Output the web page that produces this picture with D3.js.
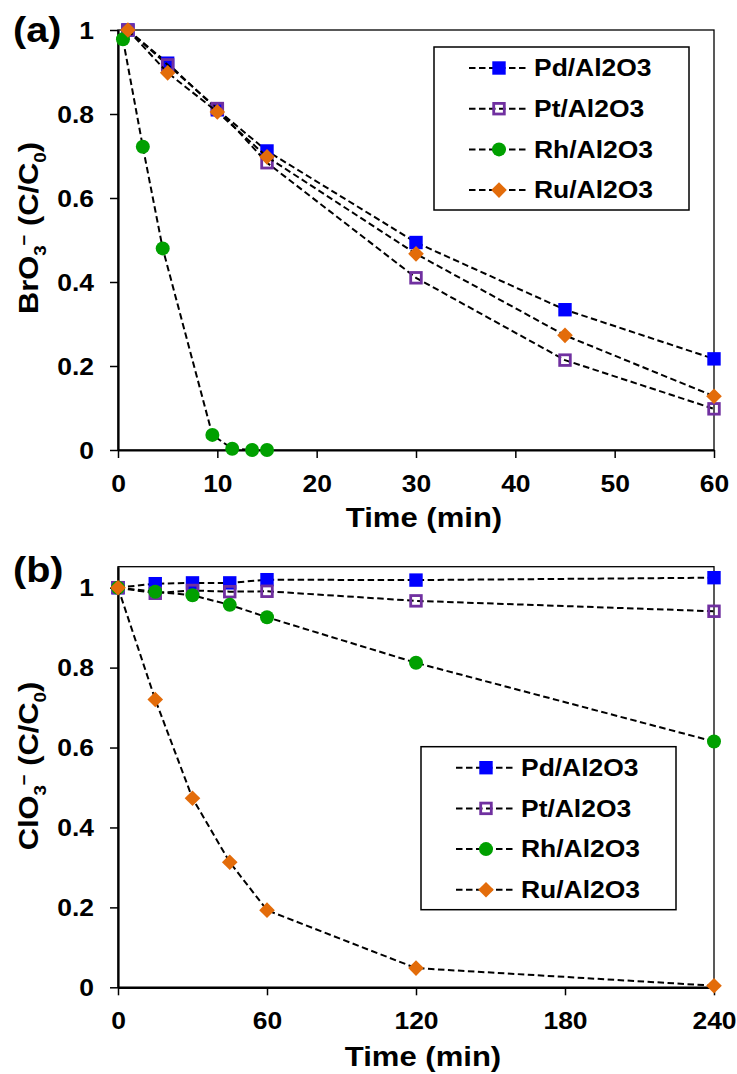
<!DOCTYPE html>
<html><head><meta charset="utf-8">
<script src="https://cdn.jsdelivr.net/npm/d3@7"></script>
<style>
body{margin:0;background:#fff;}
svg text{font-family:"Liberation Sans",Arial,Helvetica,sans-serif;font-weight:bold;fill:#000;}
</style></head><body>
<svg id="chart" width="737" height="1074"></svg>
<script>
// ---------- data ----------
const seriesNames = ["Pd/Al2O3", "Pt/Al2O3", "Rh/Al2O3", "Ru/Al2O3"];
const seriesColors = ["#0000FF", "#7030A0", "#00A000", "#E36C0A"];
const seriesShapes = ["square", "hollowSquare", "circle", "diamond"];

// Panel (a): bromate
const timeA_Pd = [1, 5, 10, 15, 30, 45, 60];
const timeA_Pt = [1, 5, 10, 15, 30, 45, 60];
const timeA_Rh = [0.5, 2.5, 4.5, 9.5, 11.5, 13.5, 15];
const timeA_Ru = [1, 5, 10, 15, 30, 45, 60];
const bromate_Pd = [1.0, 0.921, 0.81, 0.712, 0.494, 0.334, 0.217];
const bromate_Pt = [1.0, 0.917, 0.813, 0.684, 0.41, 0.214, 0.098];
const bromate_Rh = [0.978, 0.722, 0.48, 0.036, 0.003, 0.0, 0.0];
const bromate_Ru = [1.0, 0.898, 0.805, 0.698, 0.467, 0.273, 0.128];
const xTicksA = [0, 10, 20, 30, 40, 50, 60];
const yTicksA = [0, 0.2, 0.4, 0.6, 0.8, 1];

// Panel (b): chlorate
const timeB = [0, 15, 30, 45, 60, 120, 240];
const chlorate_Pd = [1.0, 1.01, 1.012, 1.012, 1.02, 1.019, 1.025];
const chlorate_Pt = [1.0, 0.986, 0.993, 0.99, 0.991, 0.967, 0.941];
const chlorate_Rh = [1.0, 0.99, 0.981, 0.957, 0.926, 0.812, 0.615];
const chlorate_Ru = [1.0, 0.72, 0.473, 0.313, 0.193, 0.048, 0.004];
const xTicksB = [0, 60, 120, 180, 240];
const yTicksB = [0, 0.2, 0.4, 0.6, 0.8, 1];

// ---------- drawing ----------
const svg = d3.select("#chart");
const SX = 1.15; // horizontal glyph stretch of the reference fonts

function fmtY(d) { return d === 0 ? "0" : d === 1 ? "1" : d.toFixed(1); }

function marker(g, shape, color, cx, cy) {
  if (shape === "square") {
    g.append("rect").attr("x", cx - 6.7).attr("y", cy - 6.7).attr("width", 13.4).attr("height", 13.4).attr("fill", color);
  } else if (shape === "hollowSquare") {
    g.append("rect").attr("x", cx - 5.3).attr("y", cy - 5.3).attr("width", 10.6).attr("height", 10.6)
      .attr("fill", "none").attr("stroke", color).attr("stroke-width", 2.8);
  } else if (shape === "circle") {
    g.append("circle").attr("cx", cx).attr("cy", cy).attr("r", 7).attr("fill", color);
  } else {
    const s = 7.8;
    g.append("path").attr("d", `M${cx},${cy - s}L${cx + s},${cy}L${cx},${cy + s}L${cx - s},${cy}Z`).attr("fill", color);
  }
}

function stretchedText(g, x, y, str, size, anchor, sx) {
  return g.append("text").attr("transform", `translate(${x},${y}) scale(${sx},1)`)
    .attr("font-size", size).attr("text-anchor", anchor).text(str);
}

function drawPanel(p) {
  const g = svg.append("g");
  const x = d3.scaleLinear().domain(p.xDomain).range([p.left, p.right]);
  const y = d3.scaleLinear().domain(p.yDomain).range([p.bottom, p.top]);

  // frame
  g.append("rect").attr("x", p.left).attr("y", p.top).attr("width", p.right - p.left).attr("height", p.bottom - p.top)
    .attr("fill", "none").attr("stroke", "#000").attr("stroke-width", 1.3);

  // y axis
  const ya = g.append("g").attr("transform", `translate(${p.left},0)`)
    .call(d3.axisLeft(y).tickValues(p.yTicks).tickSize(8).tickSizeOuter(0).tickFormat(fmtY));
  ya.select(".domain").attr("stroke-width", 2.2);
  ya.selectAll(".tick line").attr("stroke-width", 1.5);
  ya.selectAll(".tick text").attr("x", 0).attr("dy", "0.36em").attr("font-size", 23)
    .attr("transform", `translate(-24,0) scale(${SX},1)`).attr("fill", "#000").attr("font-family", null);

  // x axis
  const xa = g.append("g").attr("transform", `translate(0,${p.bottom})`)
    .call(d3.axisBottom(x).tickValues(p.xTicks).tickSize(8).tickSizeOuter(0).tickFormat(d3.format("d")));
  xa.select(".domain").attr("stroke-width", 2.2);
  xa.selectAll(".tick line").attr("stroke-width", 1.5);
  xa.selectAll(".tick text").attr("y", 0).attr("dy", 0).attr("font-size", 23)
    .attr("transform", `translate(0,42) scale(${SX},1)`).attr("fill", "#000").attr("font-family", null);
  ya.attr("font-family", null); xa.attr("font-family", null);

  // series
  const line = d3.line().x(d => x(d[0])).y(d => y(d[1]));
  p.series.forEach((s, i) => {
    const pts = s.t.map((t, k) => [t, s.v[k]]);
    const sg = g.append("g");
    sg.append("path").attr("d", line(pts)).attr("fill", "none").attr("stroke", "#000")
      .attr("stroke-width", 2).attr("stroke-dasharray", "6.5,3.5");
    pts.forEach(d => marker(sg, seriesShapes[i], seriesColors[i], x(d[0]), y(d[1])));
  });

  // legend
  const L = p.legend;
  const lg = g.append("g");
  lg.append("rect").attr("x", L.x).attr("y", L.y).attr("width", 255).attr("height", 163)
    .attr("fill", "#fff").attr("stroke", "#000").attr("stroke-width", 1.5);
  seriesNames.forEach((name, i) => {
    const cy = L.y + 21 + i * 40.7;
    lg.append("line").attr("x1", L.x + 35).attr("x2", L.x + 93).attr("y1", cy).attr("y2", cy)
      .attr("stroke", "#000").attr("stroke-width", 2).attr("stroke-dasharray", "6.5,3.5");
    marker(lg, seriesShapes[i], seriesColors[i], L.x + 65, cy);
    stretchedText(lg, L.x + 100, cy, name, 23, "start", SX).attr("dy", "0.36em");
  });

  // axis titles
  stretchedText(g, p.xTitleX, p.xTitleY, "Time (min)", 27, "middle", SX);
  const yt = g.append("text").attr("transform", `translate(38,${p.yTitleY}) rotate(-90) scale(1.1,1)`)
    .attr("font-size", 28).attr("text-anchor", "middle");
  yt.append("tspan").text(p.yTitleMain);
  yt.append("tspan").attr("font-size", 17).attr("dy", 8).text("3");
  yt.append("tspan").attr("font-size", 17).attr("dy", -16).text("\u2212");
  yt.append("tspan").attr("dy", 8).text(" (C/C");
  yt.append("tspan").attr("font-size", 17).attr("dy", 8).text("0");
  yt.append("tspan").attr("dy", -8).text(")");

  // panel label
  stretchedText(g, p.labelX, p.labelY, p.label, 36, "start", 1.1);
}

drawPanel({
  left: 118, right: 714, top: 30, bottom: 450,
  xDomain: [0, 60], yDomain: [0, 1], xTicks: xTicksA, yTicks: yTicksA,
  series: [
    { t: timeA_Pd, v: bromate_Pd }, { t: timeA_Pt, v: bromate_Pt },
    { t: timeA_Rh, v: bromate_Rh }, { t: timeA_Ru, v: bromate_Ru }
  ],
  legend: { x: 434, y: 47 },
  xTitleX: 424, xTitleY: 527, yTitleY: 228, yTitleMain: "BrO",
  label: "(a)", labelX: 13, labelY: 42
});

drawPanel({
  left: 118, right: 714, top: 566.7, bottom: 987.3,
  xDomain: [0, 240], yDomain: [0, 1.0525], xTicks: xTicksB, yTicks: yTicksB,
  series: [
    { t: timeB, v: chlorate_Pd }, { t: timeB, v: chlorate_Pt },
    { t: timeB, v: chlorate_Rh }, { t: timeB, v: chlorate_Ru }
  ],
  legend: { x: 421, y: 746.7 },
  xTitleX: 423, xTitleY: 1066, yTitleY: 766, yTitleMain: "ClO",
  label: "(b)", labelX: 13, labelY: 582
});
</script>
</body></html>
